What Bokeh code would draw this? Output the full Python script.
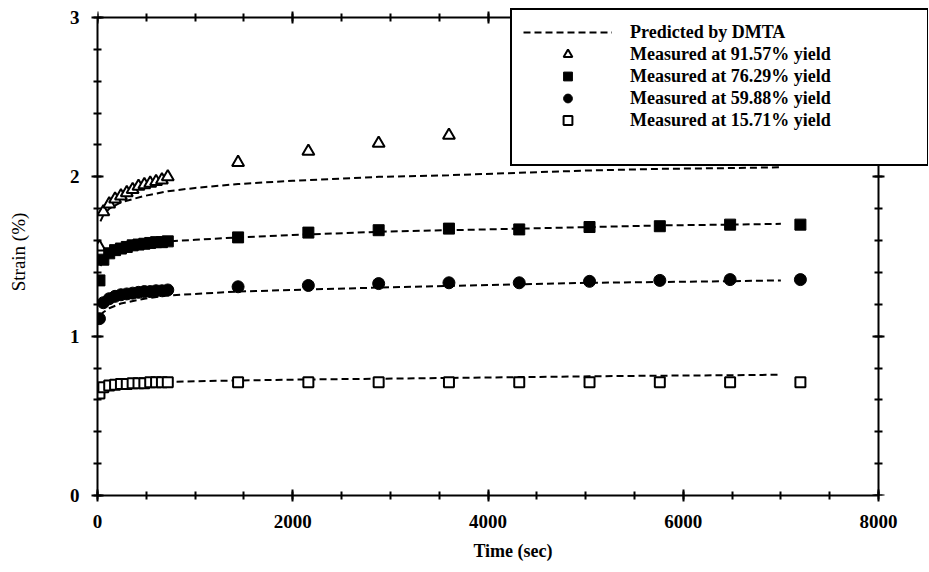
from bokeh.plotting import figure
from bokeh.models import Legend, LegendItem, LinearAxis, SingleIntervalTicker, Range1d
from bokeh.embed import file_html
from bokeh.resources import INLINE

# ---- data ----
t_early = [20, 60, 120, 180, 240, 300, 360, 420, 480, 540, 600, 660, 720]
t_late = [1440, 2160, 2880, 3600, 4320, 5040, 5760, 6480, 7200]

tri_t = t_early + [1440, 2160, 2880, 3600]
tri_y = [1.56, 1.78, 1.83, 1.86, 1.88, 1.90, 1.92, 1.94, 1.95, 1.96, 1.97, 1.98, 2.00,
         2.09, 2.16, 2.21, 2.26]

sq_t = t_early + t_late
sq_y = [1.35, 1.48, 1.52, 1.54, 1.55, 1.56, 1.57, 1.575, 1.58, 1.585, 1.59, 1.59, 1.595,
        1.62, 1.65, 1.665, 1.675, 1.67, 1.685, 1.69, 1.70, 1.70]

ci_t = t_early + t_late
ci_y = [1.11, 1.21, 1.235, 1.25, 1.26, 1.265, 1.27, 1.275, 1.28, 1.28, 1.285, 1.285, 1.29,
        1.31, 1.318, 1.33, 1.335, 1.335, 1.344, 1.35, 1.355, 1.355]

os_t = t_early + t_late
os_y = [0.64, 0.68, 0.69, 0.695, 0.70, 0.70, 0.705, 0.705, 0.705, 0.71, 0.71, 0.71, 0.71,
        0.71, 0.71, 0.71, 0.71, 0.71, 0.71, 0.71, 0.71, 0.71]

pred_t = [30, 60, 120, 240, 480, 720, 1000, 1440, 2000, 2880, 3600, 4320, 5040, 5760, 6480, 7000]
pred_tri = [1.72, 1.76, 1.80, 1.84, 1.88, 1.91, 1.93, 1.955, 1.975, 2.0, 2.01, 2.025, 2.04, 2.05, 2.055, 2.06]
pred_sq = [1.44, 1.47, 1.50, 1.53, 1.57, 1.595, 1.605, 1.62, 1.635, 1.655, 1.665, 1.675, 1.685, 1.695, 1.70, 1.705]
pred_ci = [1.13, 1.15, 1.175, 1.205, 1.235, 1.255, 1.265, 1.28, 1.29, 1.305, 1.315, 1.325, 1.335, 1.34, 1.345, 1.35]
pred_os = [0.66, 0.67, 0.68, 0.69, 0.70, 0.712, 0.717, 0.722, 0.727, 0.733, 0.738, 0.743, 0.748, 0.752, 0.755, 0.758]

labels = ["Predicted by DMTA",
          "Measured at 91.57% yield",
          "Measured at 76.29% yield",
          "Measured at 59.88% yield",
          "Measured at 15.71% yield"]

X_AXIS = (0, 8000)
Y_AXIS = (0, 3)

FONT = "Liberation Serif"
DASH = "7 4"

# ---- layout (pixels) ----
W, H = 929, 570
AX_L, AX_R, AX_T, AX_B = 97, 878, 17, 495      # where the axes box sits
FR_R, FR_T = 928, 8                             # frame extends under the legend box
LEG_L, LEG_B = 510, 166                         # legend box left / bottom

px_x = (AX_R - AX_L) / (X_AXIS[1] - X_AXIS[0])
px_y = (AX_B - AX_T) / (Y_AXIS[1] - Y_AXIS[0])
x_end = X_AXIS[0] + (FR_R - AX_L) / px_x
y_end = Y_AXIS[0] + (AX_B - FR_T) / px_y

p = figure(width=W, height=H, output_backend="svg", toolbar_location=None,
           x_range=Range1d(X_AXIS[0], x_end), y_range=Range1d(Y_AXIS[0], y_end),
           min_border_left=AX_L, min_border_right=W - FR_R, min_border_top=FR_T,
           min_border_bottom=H - AX_B,
           x_axis_location=None, y_axis_location=None)
p.outline_line_color = None
p.xgrid.visible = False
p.ygrid.visible = False
p.background_fill_color = "white"
p.border_fill_color = "white"


def style_axis(ax, show_labels):
    ax.axis_line_width = 2
    ax.axis_line_color = "black"
    ax.major_tick_line_width = 2
    ax.minor_tick_line_width = 2
    ax.major_tick_in = 6
    ax.major_tick_out = 6
    ax.minor_tick_in = 4
    ax.minor_tick_out = 4
    ax.major_tick_line_color = "black"
    ax.minor_tick_line_color = "black"
    ax.axis_label_text_color = "black"
    if not show_labels:
        ax.major_label_text_font_size = "2px"
        ax.major_label_text_color = None
        ax.major_label_standoff = 0
    else:
        ax.major_label_text_font = FONT
        ax.major_label_text_font_style = "bold"
        ax.major_label_text_font_size = "19px"
        ax.major_label_text_color = "black"


xb = LinearAxis(ticker=SingleIntervalTicker(interval=2000, num_minor_ticks=4), bounds=X_AXIS)
style_axis(xb, True)
xb.major_label_standoff = 13
xb.axis_label = "Time (sec)"
xb.axis_label_text_font = FONT
xb.axis_label_text_font_style = "bold"
xb.axis_label_text_font_size = "18px"
xb.axis_label_standoff = 10
p.add_layout(xb, "below")

xt = LinearAxis(ticker=SingleIntervalTicker(interval=2000, num_minor_ticks=4), bounds=X_AXIS,
                fixed_location=Y_AXIS[1])
style_axis(xt, False)
p.add_layout(xt, "above")

yl = LinearAxis(ticker=SingleIntervalTicker(interval=1, num_minor_ticks=5), bounds=Y_AXIS)
style_axis(yl, True)
yl.major_label_standoff = 12
yl.axis_label = "Strain (%)"
yl.axis_label_text_font = FONT
yl.axis_label_text_font_style = "normal"
yl.axis_label_text_font_size = "19px"
yl.axis_label_standoff = 38
p.add_layout(yl, "left")

yr = LinearAxis(ticker=SingleIntervalTicker(interval=1, num_minor_ticks=5), bounds=Y_AXIS,
                fixed_location=X_AXIS[1])
style_axis(yr, False)
p.add_layout(yr, "right")

LINE_STYLE = dict(line_color="black", line_width=2, line_dash=DASH)
l0 = p.line(pred_t, pred_tri, **LINE_STYLE)
p.line(pred_t, pred_sq, **LINE_STYLE)
p.line(pred_t, pred_ci, **LINE_STYLE)
p.line(pred_t, pred_os, **LINE_STYLE)

r1 = p.scatter(tri_t, tri_y, marker="triangle", size=12, fill_color="white",
               line_color="black", line_width=2)
r2 = p.scatter(sq_t, sq_y, marker="square", size=11, fill_color="black",
               line_color="black", line_width=1)
r3 = p.scatter(ci_t, ci_y, marker="circle", size=12, fill_color="black",
               line_color="black", line_width=1)
r4 = p.scatter(os_t, os_y, marker="square", size=10, fill_color="white",
               line_color="black", line_width=2)

legend = Legend(items=[LegendItem(label=labels[0], renderers=[l0]),
                       LegendItem(label=labels[1], renderers=[r1]),
                       LegendItem(label=labels[2], renderers=[r2]),
                       LegendItem(label=labels[3], renderers=[r3]),
                       LegendItem(label=labels[4], renderers=[r4]),
                       LegendItem(label=" ", renderers=[])],
                location=(LEG_L - AX_L, AX_B - LEG_B),
                padding=11, spacing=0, margin=0,
                glyph_width=89, glyph_height=22, label_height=22, label_width=286,
                label_standoff=18,
                label_text_font=FONT, label_text_font_style="bold",
                label_text_font_size="18px", label_text_color="black",
                border_line_color="black", border_line_width=2, border_line_alpha=1.0,
                background_fill_color="white", background_fill_alpha=1.0)
p.add_layout(legend, "center")

open("out.html", "w").write(file_html(p, INLINE))
